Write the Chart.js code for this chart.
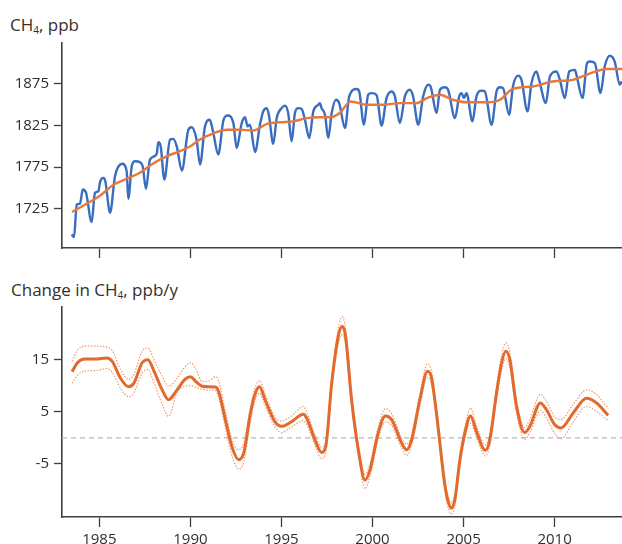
<!DOCTYPE html>
<html>
<head>
<meta charset="utf-8">
<script src="https://cdn.jsdelivr.net/npm/chart.js@4.4.1/dist/chart.umd.min.js"></script>
<style>
  html, body { margin: 0; padding: 0; background: #fff; }
  #wrap { position: relative; width: 622px; height: 544px; overflow: hidden; font-family: "Open Sans", "Noto Sans", sans-serif; color: #332f2b; }
  .title { position: absolute; font-size: 17px; line-height: 17px; white-space: nowrap; }
  .title sub { font-size: 10px; vertical-align: -3px; line-height: 0; }
  .pane { position: absolute; left: 0; width: 622px; }
</style>
</head>
<body>
<div id="wrap">
  <div class="title" style="left:10px; top:16px;">CH<sub>4</sub>, ppb</div>
  <div class="title" style="left:11px; top:281px;">Change in CH<sub>4</sub>, ppb/y</div>
  <div class="pane" style="top:0; height:270px;"><canvas id="top"></canvas></div>
  <div class="pane" style="top:270px; height:274px;"><canvas id="bottom"></canvas></div>
</div>
<script>
// ---- Data ----
const xTickYears = [1985, 1990, 1995, 2000, 2005, 2010];
const topYTicks = [1725, 1775, 1825, 1875];
const bottomYTicks = [-5, 5, 15];
const xMin = 1982.95, xMax = 2013.7;

// Monthly-ish CH4 record (blue), ppb
const ch4Years = [1983.48,1983.61,1983.76,1983.94,1984.09,1984.27,1984.58,1984.76,1984.95,1985.04,1985.22,1985.33,1985.59,1985.86,1986.26,1986.50,1986.59,1986.78,1986.96,1987.23,1987.38,1987.56,1987.78,1988.15,1988.24,1988.37,1988.57,1988.88,1989.06,1989.25,1989.53,1989.89,1990.07,1990.34,1990.53,1990.80,1991.06,1991.26,1991.53,1991.81,1992.05,1992.36,1992.54,1992.82,1993.00,1993.14,1993.27,1993.55,1993.82,1994.00,1994.19,1994.31,1994.55,1994.74,1995.01,1995.19,1995.37,1995.56,1995.74,1995.92,1996.11,1996.29,1996.53,1996.75,1997.02,1997.11,1997.20,1997.39,1997.57,1997.76,1997.99,1998.17,1998.49,1998.72,1999.13,1999.27,1999.53,1999.76,1999.95,2000.22,2000.50,2000.77,2001.05,2001.23,2001.50,2001.78,2002.05,2002.23,2002.51,2002.78,2003.06,2003.19,2003.52,2003.70,2003.97,2004.15,2004.53,2004.76,2004.89,2005.02,2005.16,2005.49,2005.71,2005.99,2006.17,2006.54,2006.81,2006.99,2007.17,2007.50,2007.72,2008.00,2008.18,2008.51,2008.73,2009.00,2009.15,2009.52,2009.74,2010.10,2010.29,2010.56,2010.80,2011.11,2011.20,2011.53,2011.78,2011.93,2012.21,2012.52,2012.75,2013.03,2013.30,2013.58,2013.69];
const ch4Values = [1694,1691,1730,1731,1748,1744,1709,1744,1746,1757,1762,1758,1720,1764,1779,1770,1737,1776,1782,1781,1776,1749,1784,1791,1805,1800,1760,1808,1809,1800,1771,1820,1823,1808,1778,1824,1832,1816,1790,1831,1837,1828,1798,1828,1835,1824,1826,1793,1826,1842,1846,1838,1803,1834,1846,1849,1840,1806,1840,1846,1845,1832,1810,1842,1850,1852,1846,1838,1810,1840,1856,1852,1822,1860,1869,1866,1826,1862,1864,1862,1825,1858,1866,1860,1828,1860,1868,1860,1826,1860,1874,1872,1840,1868,1871,1868,1834,1860,1864,1858,1864,1830,1860,1867,1866,1826,1866,1871,1870,1838,1873,1885,1880,1842,1876,1890,1880,1852,1884,1890,1880,1858,1890,1892,1886,1858,1900,1902,1900,1864,1896,1909,1902,1874,1878];

// Deseasonalised trend (orange), ppb
const trendYears = [1983.5,1984.3,1985.0,1985.8,1986.5,1987.2,1988.0,1988.7,1989.4,1990.0,1990.5,1991.3,1992.0,1992.7,1993.45,1994.2,1994.9,1995.65,1996.4,1997.1,1997.7,1998.2,1998.8,1999.7,2000.6,2001.5,2002.4,2003.0,2003.7,2004.4,2005.2,2006.3,2007.0,2007.7,2008.8,2009.9,2011.0,2011.75,2012.85,2013.7];
const trendValues = [1721,1731,1740,1754,1761,1768,1780,1788,1794,1800,1808,1816,1820,1820,1819,1827,1829,1830,1834,1835,1835,1840,1854,1850,1850,1852,1852,1858,1862,1856,1853,1853,1856,1869,1872,1878,1880,1886,1893,1893];

// Growth rate, ppb/y, with upper and lower bounds
const changeYears = [1983.5,1983.8,1984.2,1984.8,1985.4,1985.7,1986.15,1986.6,1986.9,1987.35,1987.67,1988.0,1988.45,1988.8,1989.25,1989.7,1990.0,1990.3,1990.65,1991.0,1991.37,1991.55,1991.92,1992.28,1992.65,1992.93,1993.3,1993.55,1993.8,1994.1,1994.64,1995.0,1995.56,1996.2,1996.38,1996.84,1997.2,1997.43,1997.76,1998.12,1998.34,1998.52,1998.85,1999.31,1999.58,1999.86,2000.31,2000.7,2001.05,2001.6,2001.87,2002.15,2002.6,2003.02,2003.24,2003.45,2003.68,2003.95,2004.15,2004.34,2004.52,2004.8,2005.07,2005.38,2005.71,2006.2,2006.44,2006.81,2007.09,2007.32,2007.54,2007.91,2008.36,2008.64,2009.22,2009.55,2010.01,2010.35,2011.02,2011.75,2012.3,2012.94];
const changeMain  = [12.7,14.4,15.1,15.1,15.3,14.7,11.5,9.8,10.5,14.4,15.0,12.8,9.2,7.3,9.1,11.2,11.7,10.8,9.9,9.8,9.75,8.9,3.5,-1.7,-4.2,-2.9,4.75,8.4,9.8,7.3,3.1,2.2,3.1,4.5,3.8,-0.4,-2.8,-1.7,10.5,19.5,21.4,19.5,7.3,-4.2,-8.1,-6.2,0.9,4.2,3.5,-1.0,-2.3,-0.4,7.3,12.75,11.5,6.5,-0.4,-8.5,-12.2,-13.5,-11.9,-4.2,0.9,4.2,1.2,-2.4,-0.4,8.6,14.4,16.6,15.0,6.0,1.0,2.2,6.7,5.4,2.5,1.9,4.75,7.6,6.7,4.3];
const changeUpper = [14.7,16.8,17.6,17.6,17.4,16.8,13.2,11.2,12.2,16.6,17.2,15.0,11.8,9.9,11.3,13.6,14.4,13.2,10.8,10.9,11.7,10.9,5.0,-0.3,-2.3,-1.0,6.0,9.6,11.0,8.4,4.0,3.2,4.2,6.0,5.0,0.6,-1.8,-0.6,11.6,21.0,23.2,21.0,8.4,-3.2,-7.0,-5.0,2.0,5.6,4.6,0.0,-1.2,0.6,8.4,14.2,12.8,7.6,0.6,-7.5,-11.2,-12.5,-10.9,-3.2,2.0,5.7,2.3,-1.3,0.7,9.8,15.8,18.2,16.4,7.2,2.0,3.6,8.3,7.0,4.0,3.5,6.4,9.2,8.3,5.6];
const changeLower = [10.5,12.0,12.8,12.9,13.3,12.6,9.6,7.9,8.6,12.4,13.1,10.6,6.4,4.1,8.6,9.9,10.0,9.7,9.3,9.2,9.1,7.8,2.0,-3.4,-6.0,-4.6,3.2,7.2,8.6,6.2,2.1,1.0,2.1,3.3,2.6,-1.4,-4.0,-2.8,9.4,18.0,19.8,18.0,6.2,-5.3,-9.8,-7.4,-0.2,3.0,2.4,-2.0,-3.4,-1.4,6.2,11.6,10.3,5.4,-1.4,-9.6,-13.4,-14.6,-13.0,-5.3,-0.2,2.8,0.1,-3.5,-1.5,7.4,13.0,15.2,13.6,4.8,-0.3,1.0,5.2,3.8,0.8,-0.2,3.1,6.0,5.1,3.3];

// ---- Helpers ----
const pts = (xs, ys) => xs.map((x, i) => ({ x: x, y: ys[i] }));
const TEXT = '#332f2b';
const AXIS = '#3f3f3f';
const FONT = { family: '"Open Sans", "Noto Sans", sans-serif', size: 15 };

function xScale(showLabels, height) {
  return {
    type: 'linear', min: xMin, max: xMax,
    afterBuildTicks: s => { s.ticks = xTickYears.map(v => ({ value: v })); },
    afterFit: s => { s.height = height; },
    ticks: { autoSkip: false, maxRotation: 0, padding: 4, color: TEXT, font: FONT,
             callback: v => showLabels ? String(v) : '' },
    grid: { display: true, drawOnChartArea: false, drawTicks: true, tickLength: 10, color: AXIS, tickWidth: 1.3 },
    border: { display: true, color: AXIS, width: 1.6 }
  };
}
function yScale(min, max, ticks) {
  return {
    type: 'linear', min: min, max: max,
    afterBuildTicks: s => { s.ticks = ticks.map(v => ({ value: v })); },
    afterFit: s => { s.width = 62; },
    ticks: { color: TEXT, font: FONT, padding: 5, callback: v => String(v) },
    grid: { display: true, drawOnChartArea: false, drawTicks: true, tickLength: 8, color: AXIS, tickWidth: 1.3 },
    border: { display: true, color: AXIS, width: 1.6 }
  };
}
const common = {
  responsive: true, maintainAspectRatio: false, animation: false,
  plugins: { legend: { display: false }, tooltip: { enabled: false } },
  elements: { point: { radius: 0 } }
};

new Chart(document.getElementById('top'), {
  type: 'line',
  data: { datasets: [
    { data: pts(trendYears, trendValues), borderColor: '#e8773d', borderWidth: 2.4, cubicInterpolationMode: 'monotone', fill: false },
    { data: pts(ch4Years, ch4Values), borderColor: '#3a6dbf', borderWidth: 2.4, cubicInterpolationMode: 'monotone', fill: false }
  ]},
  options: Object.assign({}, common, {
    layout: { padding: { top: 43, left: 0, right: 0, bottom: 0 } },
    scales: { x: xScale(false, 22), y: yScale(1677.7, 1924.3, topYTicks) }
  })
});

new Chart(document.getElementById('bottom'), {
  type: 'line',
  data: { datasets: [
    { data: pts(changeYears, changeMain), borderColor: '#e26a2c', borderWidth: 3, cubicInterpolationMode: 'monotone', fill: false },
    { data: pts(changeYears, changeUpper), borderColor: 'rgba(234,130,80,0.8)', borderWidth: 1.2, borderDash: [1.5, 1.5], cubicInterpolationMode: 'monotone', fill: false },
    { data: pts(changeYears, changeLower), borderColor: 'rgba(234,130,80,0.8)', borderWidth: 1.2, borderDash: [1.5, 1.5], cubicInterpolationMode: 'monotone', fill: false },
    { data: [{ x: xMin, y: 0 }, { x: xMax, y: 0 }], borderColor: '#b8b8b8', borderWidth: 1.2, borderDash: [5, 4], fill: false }
  ]},
  options: Object.assign({}, common, {
    layout: { padding: { top: 37, left: 0, right: 0, bottom: 0 } },
    scales: { x: xScale(true, 27), y: yScale(-15.2, 25.1, bottomYTicks) }
  })
});
</script>
</body>
</html>
